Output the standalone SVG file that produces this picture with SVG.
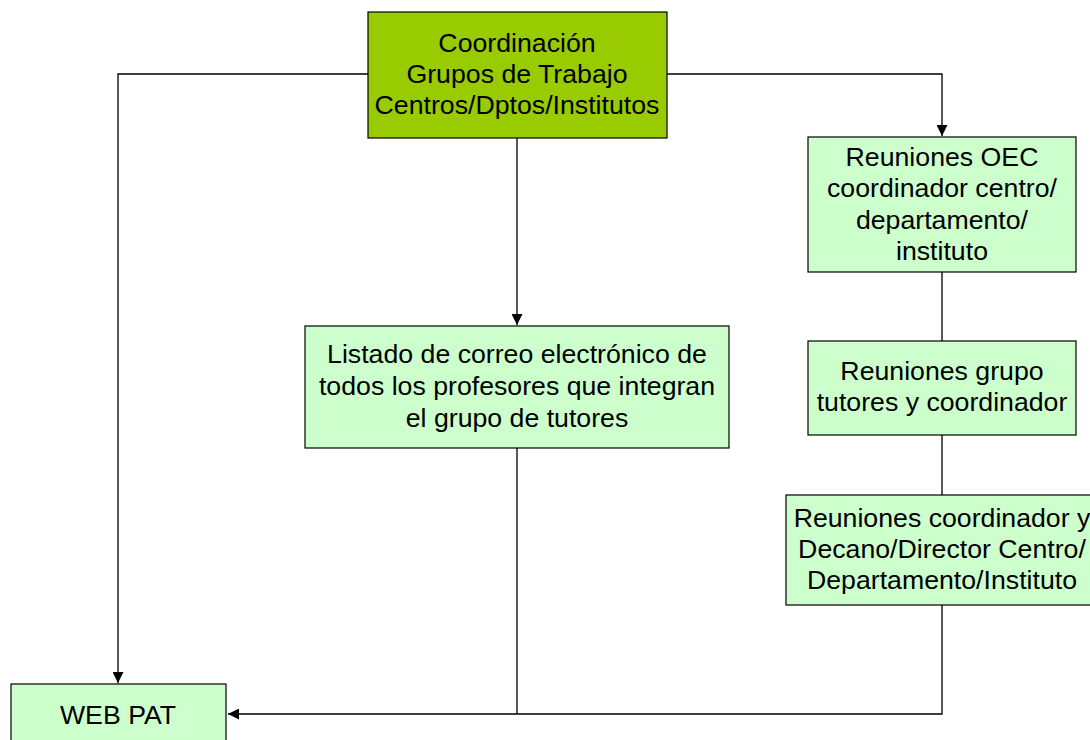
<svg xmlns="http://www.w3.org/2000/svg" width="1090" height="740" viewBox="0 0 1090 740">
<style>
.box{fill:#ccffcc;stroke:#000;stroke-width:1.2}
.top{fill:#99cc00;stroke:#000;stroke-width:1.2}
.t{font-family:"Liberation Sans",Arial,sans-serif;font-size:26.7px;fill:#000;text-anchor:middle}
.c{fill:none;stroke:#000;stroke-width:1.3}
</style>
<defs>
<marker id="arr" viewBox="0 0 10 10" refX="10" refY="5" markerWidth="11" markerHeight="11" markerUnits="userSpaceOnUse" orient="auto">
<path d="M0,0 L10,5 L0,10 z" fill="#000"/>
</marker>
</defs>
<rect width="1090" height="740" fill="#fff"/>
<g id="connectors">
<path class="c" d="M368,74 H118 V683" marker-end="url(#arr)"/>
<path class="c" d="M667,74 H942 V136" marker-end="url(#arr)"/>
<path class="c" d="M517,138 V325" marker-end="url(#arr)"/>
<path class="c" d="M942,272 V341"/>
<path class="c" d="M942,435 V495"/>
<path class="c" d="M942,605 V714 H228" marker-end="url(#arr)"/>
<path class="c" d="M517,448 V714"/>
</g>
<g id="coordinacion">
<rect class="top" x="368" y="12" width="299" height="126"/>
<text class="t" x="517" y="52">Coordinación</text>
<text class="t" x="517" y="83">Grupos de Trabajo</text>
<text class="t" x="517" y="114">Centros/Dptos/Institutos</text>
</g>
<g id="oec">
<rect class="box" x="808" y="137" width="268" height="135"/>
<text class="t" x="942" y="166">Reuniones OEC</text>
<text class="t" x="942" y="197">coordinador centro/</text>
<text class="t" x="942" y="229">departamento/</text>
<text class="t" x="942" y="260">instituto</text>
</g>
<g id="grupo">
<rect class="box" x="808" y="341" width="268" height="94"/>
<text class="t" x="942" y="380">Reuniones grupo</text>
<text class="t" x="942" y="411">tutores y coordinador</text>
</g>
<g id="decano">
<rect class="box" x="786" y="495" width="312" height="110"/>
<text class="t" x="942" y="527">Reuniones coordinador y</text>
<text class="t" x="942" y="558">Decano/Director Centro/</text>
<text class="t" x="942" y="589">Departamento/Instituto</text>
</g>
<g id="listado">
<rect class="box" x="305" y="326" width="424" height="122"/>
<text class="t" x="517" y="363">Listado de correo electrónico de</text>
<text class="t" x="517" y="395">todos los profesores que integran</text>
<text class="t" x="517" y="427">el grupo de tutores</text>
</g>
<g id="webpat">
<rect class="box" x="11" y="684" width="215" height="70"/>
<text class="t" x="118" y="724">WEB PAT</text>
</g>
</svg>
